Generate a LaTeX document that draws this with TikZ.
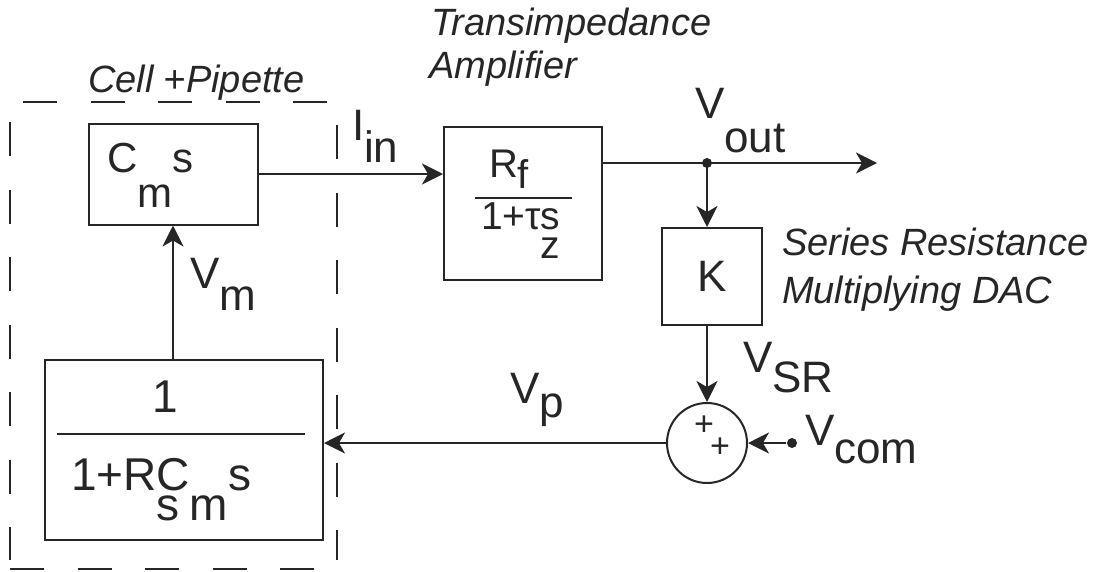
\documentclass[tikz,border=0pt]{standalone}
\usepackage{fontspec}
\setmainfont{Liberation Sans}
\usetikzlibrary{arrows.meta}
\newcommand{\dropsub}[2]{\raisebox{-#1pt}{#2}}
\begin{document}
\begin{tikzpicture}[
  x=1pt,
  y=-1pt,
  line width=2pt,
  block/.style={draw=black!85, rectangle, inner sep=0pt},
  sig/.style={draw=black!85, -{Stealth[length=21pt,width=21pt,inset=6pt]}},
  lbl/.style={anchor=base west, inner sep=0pt, text=black!85, font=\fontsize{44}{48}\selectfont},
  note/.style={anchor=base west, inner sep=0pt, text=black!85, font=\fontsize{38}{42}\selectfont\itshape},
  frame/.style={draw=black!85, dash pattern=on 34pt off 33.5pt, line cap=butt}
]
\useasboundingbox (0,0) rectangle (1106,571);

% cell + pipette frame
\draw[frame] (23,102) -- (330,102);
\draw[frame] (10,122) -- (10,560);
\draw[frame] (337,125) -- (337,560);
\draw[frame] (10,569) -- (315,569);
\node[note] (cellnote) at (87,92) {Cell +Pipette};

% blocks
\node[block, minimum width=169pt, minimum height=101pt] (cm) at (173,174) {};
\node[block, minimum width=278pt, minimum height=180pt] (rc) at (184,450) {};
\node[block, minimum width=158pt, minimum height=153pt] (rf) at (523,203.5) {};
\node[block, minimum width=100pt, minimum height=97pt, text=black!85,
      font=\fontsize{44}{48}\selectfont] (k) at (712,276.5) {K};
\node[draw=black!85, circle, minimum size=80pt, inner sep=0pt] (sum) at (707,443) {};

% block contents
\node[lbl, font=\fontsize{42}{46}\selectfont] (cmtxt) at (106,172) {C\dropsub{35}{m}s};
\node[lbl, font=\fontsize{40}{44}\selectfont] (rfnum) at (488,177) {R\dropsub{11}{f}};
\draw[black!85] (475,198) -- (572,198);
\node[lbl, font=\fontsize{39}{43}\selectfont] (rfden) at (480,229) {1+τ\rlap{\dropsub{29}{z}}s};
\node[lbl, anchor=base, font=\fontsize{46}{50}\selectfont] (one) at (165,412) {1};
\draw[black!85] (57,434) -- (305,434);
\node[lbl, font=\fontsize{46}{50}\selectfont] (rcden) at (70,490) {1+R\rlap{\dropsub{30}{s}}C\dropsub{30}{m}s};
\node[text=black!85, font=\fontsize{34}{36}\selectfont, inner sep=0pt] (plusa) at (704,426) {+};
\node[text=black!85, font=\fontsize{34}{36}\selectfont, inner sep=0pt] (plusb) at (720,448) {+};

% signal points
\coordinate (jn) at (707,163);
\coordinate (out) at (877,163);
\fill[black!85] (jn) circle (5pt);
\node[circle, fill=black!85, inner sep=0pt, minimum size=10pt] (vc) at (792,443) {};

% connectors
\draw[sig] (cm.south |- rc.north) -- (cm.south);
\draw[sig] (cm.east) -- (rf.west |- cm.east);
\draw[sig] (rf.east |- jn) -- (out);
\draw[sig] (jn) -- (jn |- k.north);
\draw[sig] (jn |- k.south) -- (sum.north);
\draw[sig] (vc) -- (sum.east);
\draw[sig] (sum.west) -- (rc.east |- sum.west);

% signal labels
\node[lbl] (iin) at (351,140) {I\dropsub{22}{in}};
\node[lbl] (vout) at (694,118) {V\dropsub{34}{out}};
\node[lbl] (vm) at (189,288) {V\dropsub{22}{m}};
\node[lbl] (vp) at (509,403) {V\dropsub{14}{p}};
\node[lbl] (vsr) at (742,372) {V\dropsub{20}{SR}};
\node[lbl] (vcom) at (804,445) {V\dropsub{18}{com}};

% block notes
\node[note] (tiaa) at (430,35) {Transimpedance};
\node[note] (tiab) at (428,78) {Amplifier};
\node[note] (daca) at (781,255) {Series Resistance};
\node[note] (dacb) at (781,303) {Multiplying DAC};
\end{tikzpicture}
\end{document}
